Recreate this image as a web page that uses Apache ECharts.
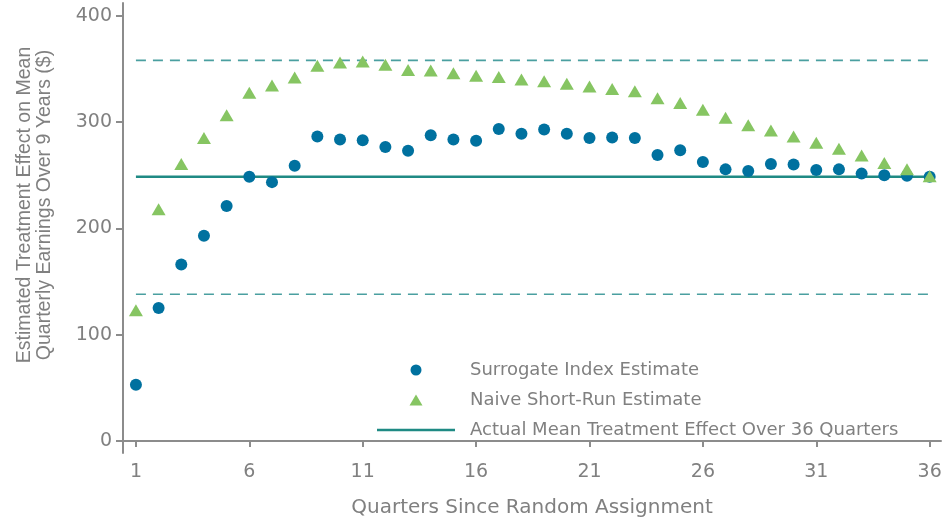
<!DOCTYPE html>
<html>
<head>
<meta charset="utf-8">
<script src="https://cdn.jsdelivr.net/npm/echarts@6/dist/echarts.min.js"></script>
<style>
  html, body { margin: 0; padding: 0; background: #fff; }
  #main { width: 948px; height: 523px; }
</style>
</head>
<body>
<div id="main"></div>
<script>
// quarters since random assignment
var quarters = [1, 2, 3, 4, 5, 6, 7, 8, 9, 10, 11, 12, 13, 14, 15, 16, 17, 18,
                19, 20, 21, 22, 23, 24, 25, 26, 27, 28, 29, 30, 31, 32, 33, 34, 35, 36];
var xTicks = [1, 6, 11, 16, 21, 26, 31, 36];
var yTicks = [0, 100, 200, 300, 400];

var surrogate = [53, 125, 166, 193, 221, 248.5, 243.5, 259, 286.5, 283.5, 283, 276.5,
                 273, 287.5, 283.5, 282.5, 293.5, 289, 293, 289, 285, 285.5, 285, 269,
                 273.5, 262.5, 255.5, 254, 260.5, 260, 255, 255.5, 251.5, 250, 249.5, 248.5];
var naive = [123, 218, 260.5, 285, 306.5, 327.5, 334.5, 342, 353, 356, 357, 354,
             349, 348.5, 346, 343.5, 342.5, 340, 338.5, 336, 333.5, 331, 329, 322.5,
             318, 311.5, 304, 297, 292, 286.5, 280.5, 275, 268.5, 261.5, 255.5, 249];
var actualMean = 248.5;
var bandUpper = 358;
var bandLower = 138;

var seriesNames = ['Surrogate Index Estimate', 'Naive Short-Run Estimate',
                   'Actual Mean Treatment Effect Over 36 Quarters'];

var gray = '#808080';
var hFont = 'DejaVu Sans';

function pairs(xs, ys) {
    return xs.map(function (x, i) { return [x, ys[i]]; });
}
function flat(v) {
    return [[quarters[0], v], [quarters[quarters.length - 1], v]];
}

var chart = echarts.init(document.getElementById('main'), null, { renderer: 'canvas' });

var option = {
    animation: false,
    backgroundColor: '#fff',
    grid: { left: 123, right: 7, top: 3, bottom: 70, outerBoundsMode: 'none' },
    legend: {
        orient: 'vertical',
        left: 377,
        top: 361,
        padding: 0,
        itemWidth: 78,
        itemHeight: 11,
        itemGap: 12,
        data: [
            { name: seriesNames[0], icon: 'circle' },
            { name: seriesNames[1], icon: 'path://M6.5,0L13,11L0,11Z' },
            { name: seriesNames[2], icon: 'path://M0,0L78,0L78,2.5L0,2.5Z' }
        ],
        textStyle: { color: gray, fontFamily: hFont, fontSize: 18, padding: [0, 0, 0, 10] }
    },
    xAxis: {
        type: 'value',
        min: 0.43,
        max: 36.5,
        name: 'Quarters Since Random Assignment',
        nameLocation: 'middle',
        nameGap: 45,
        nameTextStyle: { color: gray, fontFamily: hFont, fontSize: 20 },
        axisLine: { lineStyle: { color: '#8c8c8c', width: 2 } },
        axisTick: { customValues: xTicks, length: 6, lineStyle: { color: '#8c8c8c', width: 2 } },
        axisLabel: { customValues: xTicks, color: gray, fontFamily: hFont, fontSize: 19, margin: 10 },
        splitLine: { show: false }
    },
    yAxis: {
        type: 'value',
        min: -11.3,
        max: 412,
        axisLine: { show: true, lineStyle: { color: '#8c8c8c', width: 2 } },
        axisTick: { show: true, customValues: yTicks, length: 7, lineStyle: { color: '#8c8c8c', width: 2 } },
        axisLabel: { customValues: yTicks, color: gray, fontFamily: hFont, fontSize: 19, margin: 11 },
        splitLine: { show: false }
    },
    graphic: [{
        type: 'text',
        x: 35,
        y: 205,
        rotation: Math.PI / 2,
        style: {
            text: 'Estimated Treatment Effect on Mean\nQuarterly Earnings Over 9 Years ($)',
            fill: gray,
            font: '19.5px "Liberation Sans", Arial, sans-serif',
            lineHeight: 20,
            align: 'center',
            verticalAlign: 'middle'
        }
    }],
    series: [
        {
            name: 'upper',
            type: 'line',
            data: flat(bandUpper),
            symbol: 'none',
            z: 1,
            lineStyle: { color: '#4a9fa0', width: 1.6, type: [10, 7] }
        },
        {
            name: 'lower',
            type: 'line',
            data: flat(bandLower),
            symbol: 'none',
            z: 1,
            lineStyle: { color: '#4a9fa0', width: 1.6, type: [10, 7] }
        },
        {
            name: seriesNames[2],
            type: 'line',
            data: flat(actualMean),
            symbol: 'none',
            z: 2,
            color: '#1f8a84',
            lineStyle: { color: '#1f8a84', width: 2.5 }
        },
        {
            name: seriesNames[0],
            type: 'scatter',
            data: pairs(quarters, surrogate),
            symbol: 'circle',
            symbolSize: 12,
            z: 3,
            itemStyle: { color: '#00719f', opacity: 1 }
        },
        {
            name: seriesNames[1],
            type: 'scatter',
            data: pairs(quarters, naive),
            symbol: 'triangle',
            symbolSize: [14, 12],
            z: 4,
            itemStyle: { color: '#86c562', opacity: 1 }
        }
    ]
};

chart.setOption(option);
</script>
</body>
</html>
